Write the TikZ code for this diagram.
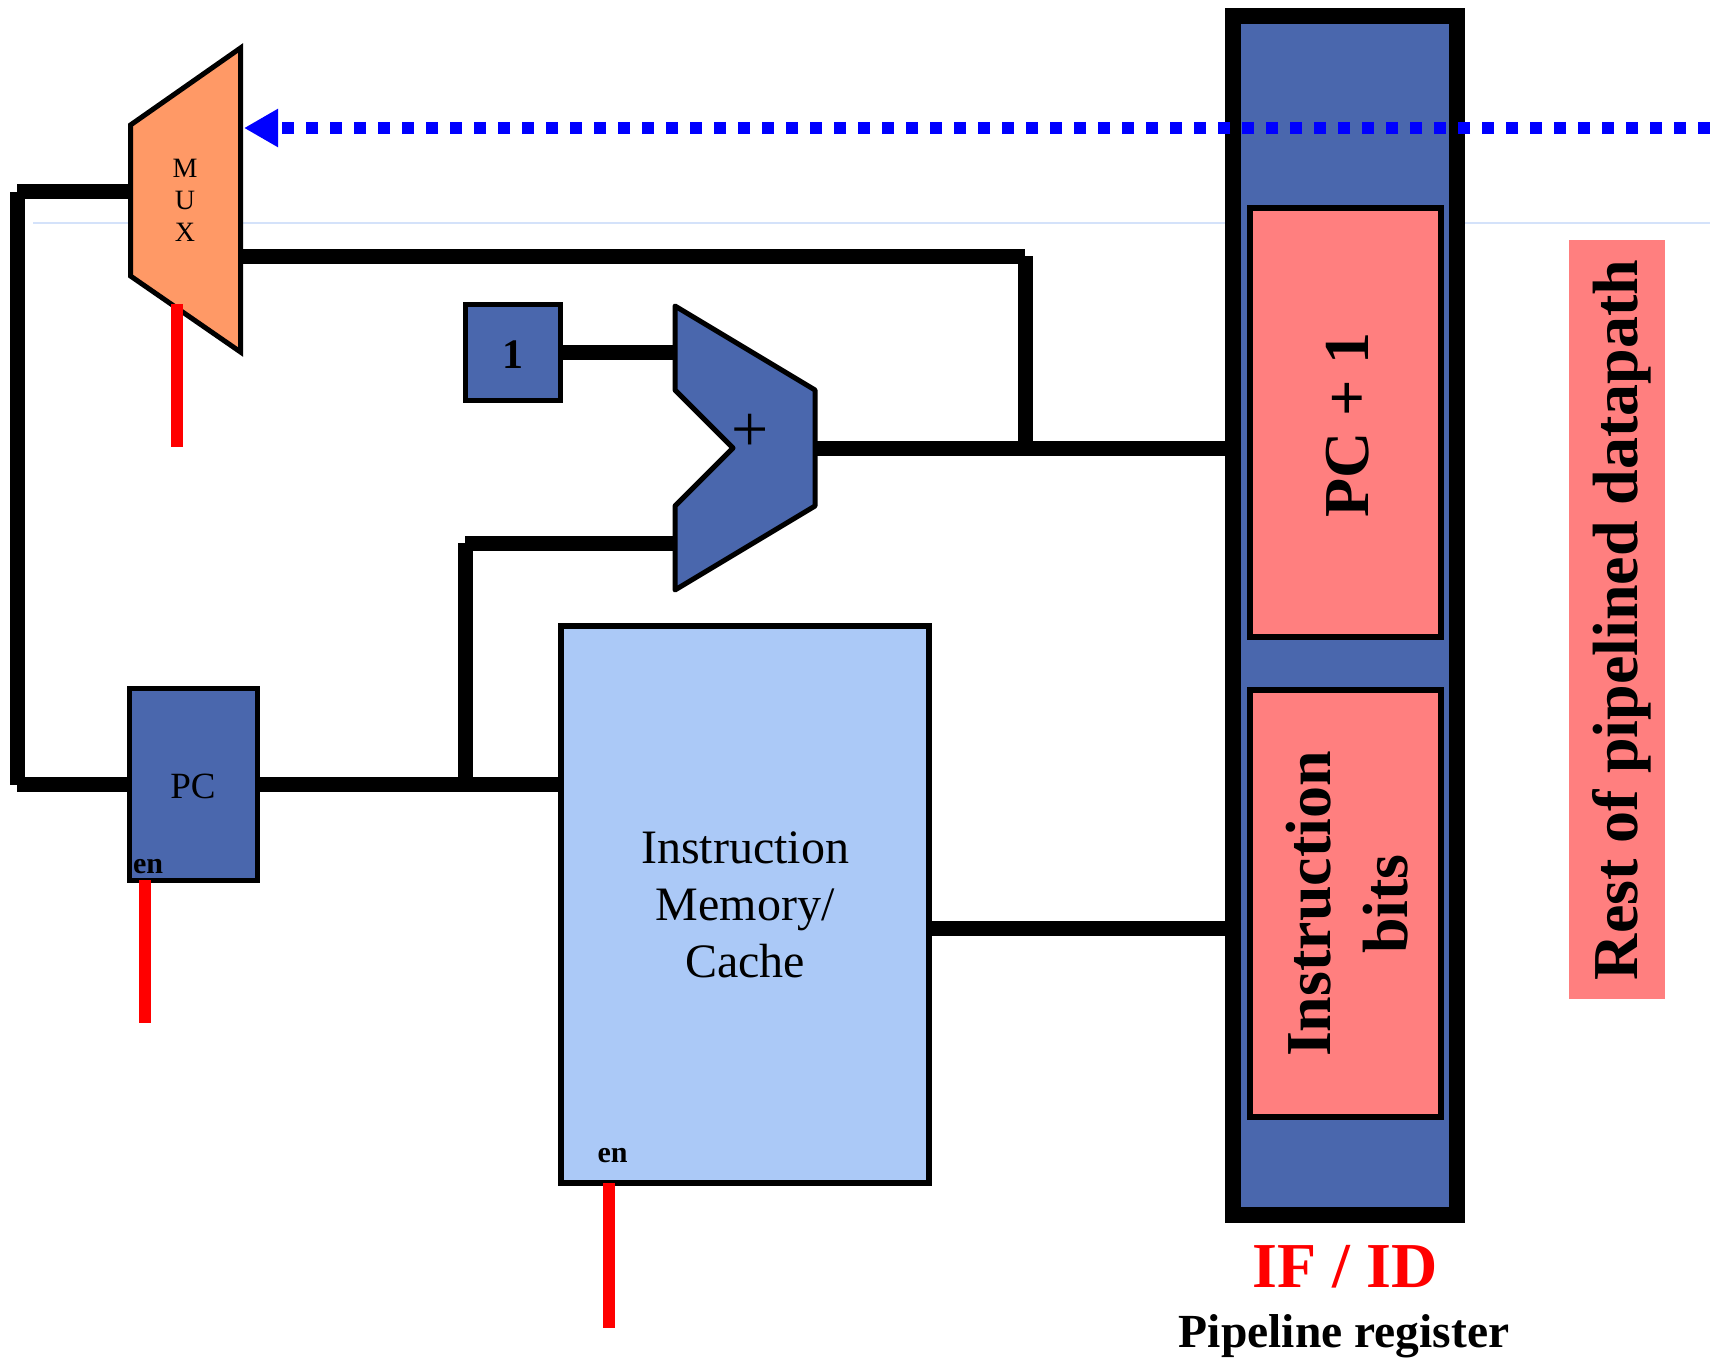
\documentclass[tikz,border=0pt]{standalone}
\usepackage{fontspec}
\setmainfont{Liberation Serif}
\usetikzlibrary{arrows.meta}
\definecolor{regblue}{RGB}{74,103,173}
\definecolor{muxorange}{RGB}{255,153,102}
\definecolor{memblue}{RGB}{171,201,247}
\definecolor{pinkfill}{RGB}{255,127,127}
\definecolor{faintblue}{RGB}{212,226,250}
\newcommand\setfs[2]{\fontsize{#1}{#2}\selectfont}
\begin{document}
\begin{tikzpicture}[x=1pt,y=-1pt,
  wire/.style={line width=15pt, line cap=butt, draw=black},
  enline/.style={line width=12pt, draw=red, line cap=butt},
  blk/.style={draw=black, line width=5pt, fill=regblue, inner sep=0pt},
  regpart/.style={draw=black, line width=6pt, fill=pinkfill, inner sep=0pt},
  lbl/.style={inner sep=0pt, text=black},
  ctrl/.style={line width=12pt, draw=blue, dash pattern=on 12pt off 12pt,
               -{Triangle[length=34pt,width=36pt]}}]
\useasboundingbox (0,0) rectangle (1710,1359);
% faint guide line
\coordinate (fl1) at (33,223);
\coordinate (fl2) at (1710,223);
\draw[faintblue, line width=2pt] (fl1) -- (fl2);

% MUX
\coordinate (m1) at (130.5,125);
\coordinate (m2) at (240.5,48);
\coordinate (m3) at (240.5,352);
\coordinate (m4) at (130.5,276);
\draw[line width=5pt, fill=muxorange, line join=miter] (m1) -- (m2) -- (m3) -- (m4) -- cycle;
\node[lbl, anchor=north, align=center, font=\setfs{28}{32}] (mux) at (185,159) {M\\U\\X};

% adder
\coordinate (a1) at (675,306);
\coordinate (a2) at (815,390);
\coordinate (a3) at (815,506);
\coordinate (a4) at (675,590);
\coordinate (a5) at (675,506);
\coordinate (a6) at (733,448);
\coordinate (a7) at (675,390);
\draw[line width=5pt, fill=regblue, line join=round] (a1) -- (a2) -- (a3) -- (a4) -- (a5) -- (a6) -- (a7) -- cycle;
\node[lbl, font=\setfs{66}{76}] (add) at (750,433) {+};

% constant 1
\node[blk, minimum width=95pt, minimum height=96pt] (one) at (513,352.5) {};
\node[lbl, anchor=base, font=\bfseries\setfs{42}{50}] (onetext) at (513,368) {1};

% PC
\node[blk, minimum width=128pt, minimum height=192pt] (pc) at (193.5,784.5) {};
\node[lbl, anchor=base, font=\setfs{37}{44}] (pctext) at (193,798) {PC};
\node[lbl, anchor=base, font=\bfseries\setfs{30}{36}] (pcen) at (148,873) {en};

% instruction memory
\node[draw=black, line width=6pt, fill=memblue, minimum width=368pt, minimum height=557pt, inner sep=0pt] (mem) at (745,904.5) {};
\node[lbl, anchor=north, align=center, font=\setfs{48}{57}] (memtext) at (745,832) {Instruction\\Memory/\\Cache};
\node[lbl, anchor=base, font=\bfseries\setfs{30}{36}] (memen) at (612.5,1162) {en};

% pipeline register
\node[draw=black, line width=16pt, fill=regblue, minimum width=224pt, minimum height=1199pt, inner sep=0pt] (reg) at (1345,615.5) {};
\node[regpart, minimum width=191.5pt, minimum height=429pt] (pcp) at (1345.25,422.5) {};
\node[regpart, minimum width=191.5pt, minimum height=427pt] (ibits) at (1345.25,903.5) {};
\node[lbl, rotate=90, anchor=base, font=\bfseries\setfs{64}{77}] (pcptext) at (1368,425) {PC + 1};
\node[lbl, rotate=90, align=center, font=\bfseries\setfs{64}{77}] (ibitstext) at (1347.5,904) {Instruction\\bits};

% rest of datapath
\node[fill=pinkfill, minimum width=96pt, minimum height=759pt, inner sep=0pt] (rest) at (1617,619.5) {};
\node[lbl, rotate=90, font=\bfseries\setfs{64}{77}] (resttext) at (1622,620) {Rest of pipelined datapath};

% labels under register
\node[lbl, anchor=base, text=red, font=\bfseries\setfs{64}{76}] (ifid) at (1345,1287) {IF / ID};
\node[lbl, anchor=base, font=\bfseries\setfs{47.5}{56}] (pipereg) at (1344,1347) {Pipeline register};

% wires
\coordinate (lt) at (17,192);
\coordinate (lb) at (17,784.5);
\draw[wire] (lt) -- (lt -| m1);
\draw[wire] (lt) -- (lb);
\draw[wire] (lb) -- (pc.west);
\draw[wire] (pc.east) -- (pc.east -| mem.west);
\coordinate (ab) at (465,543);
\draw[wire] (ab |- pc.east) -- (ab);
\draw[wire] (ab) -- (ab -| a1);
\draw[wire] (one.east) -- (one.east -| a1);
\coordinate (mo) at (1025,256);
\coordinate (aout) at (815,448);
\draw[wire] (mo -| m2) -- (mo);
\draw[wire] (mo) -- (mo |- aout);
\draw[wire] (aout) -- (aout -| reg.west);
\coordinate (memout) at (929,928);
\draw[wire] (memout) -- (memout -| reg.west);

% enable / select lines
\coordinate (selt) at (177,304);
\coordinate (selb) at (177,447);
\draw[enline] (selt) -- (selb);
\coordinate (pcent) at (145,880);
\coordinate (pcenb) at (145,1023);
\draw[enline] (pcent) -- (pcenb);
\coordinate (memt) at (609,1183);
\coordinate (memb) at (609,1328);
\draw[enline] (memt) -- (memb);

% control signal (dotted)
\coordinate (sigR) at (1710,128);
\coordinate (sigL) at (244,128);
\draw[ctrl] (sigR) -- (sigL);
\end{tikzpicture}
\end{document}
